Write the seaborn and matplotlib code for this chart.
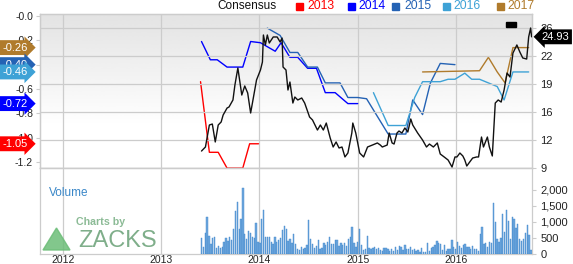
import numpy as np
import pandas as pd
import matplotlib
matplotlib.use('Agg')
import matplotlib.pyplot as plt
import seaborn as sns
from matplotlib.patches import Polygon, Rectangle

sns.set_theme(style='white')
plt.rcParams['font.family'] = ['Liberation Sans', 'DejaVu Sans']

# ---------------- data ----------------
years = [2012, 2013, 2014, 2015, 2016]

price_x = [2013.41, 2013.45, 2013.49, 2013.52, 2013.55, 2013.58, 2013.61, 2013.63, 2013.67, 2013.69,
           2013.73, 2013.75, 2013.78, 2013.82, 2013.85, 2013.88, 2013.91, 2013.93, 2013.97, 2014.01,
           2014.03, 2014.04, 2014.06, 2014.08, 2014.10, 2014.14, 2014.18, 2014.21, 2014.23, 2014.24,
           2014.27, 2014.29, 2014.31, 2014.34, 2014.36, 2014.39, 2014.43, 2014.46, 2014.51, 2014.54,
           2014.59, 2014.62, 2014.65, 2014.68, 2014.72, 2014.75, 2014.78, 2014.81, 2014.84, 2014.87,
           2014.90, 2014.94, 2014.95, 2014.98, 2015.02, 2015.06, 2015.10, 2015.15, 2015.20, 2015.23,
           2015.25, 2015.30, 2015.32, 2015.35, 2015.37, 2015.40, 2015.42, 2015.45, 2015.48, 2015.51,
           2015.54, 2015.56, 2015.61, 2015.66, 2015.70, 2015.73, 2015.77, 2015.81, 2015.84, 2015.88,
           2015.92, 2015.96, 2015.99, 2016.01, 2016.04, 2016.07, 2016.09, 2016.11, 2016.14, 2016.17,
           2016.21, 2016.23, 2016.26, 2016.28, 2016.32, 2016.34, 2016.37, 2016.40, 2016.43, 2016.46,
           2016.49, 2016.52, 2016.55, 2016.58, 2016.62, 2016.65, 2016.68, 2016.72, 2016.74, 2016.76,
           2016.77]
price_y = [11.06, 11.55, 14.22, 14.34, 12.16, 14.22, 14.59, 15.43, 16.28, 16.41,
           17.26, 19.08, 21.14, 17.86, 18.96, 18.11, 15.68, 17.01, 19.69, 20.90,
           21.87, 25.15, 23.94, 25.15, 24.18, 24.91, 24.91, 24.30, 24.78, 21.26,
           20.90, 18.47, 19.44, 16.89, 17.62, 17.26, 17.50, 16.89, 15.19, 14.83,
           13.61, 14.22, 13.61, 14.46, 12.64, 11.55, 12.16, 11.43, 11.55, 10.34,
           10.82, 13.25, 14.46, 13.25, 10.82, 10.34, 11.55, 11.79, 12.04, 11.79,
           11.55, 11.79, 13.25, 12.04, 11.91, 13.25, 13.49, 13.25, 13.86, 13.37,
           14.95, 14.22, 13.25, 12.40, 11.55, 11.91, 11.55, 12.04, 10.70, 10.34,
           9.97, 9.12, 10.34, 10.34, 10.82, 10.46, 9.97, 9.24, 9.73, 10.21,
           10.34, 10.34, 12.76, 11.55, 12.76, 11.55, 10.46, 16.89, 17.26, 17.01,
           18.47, 20.53, 20.05, 22.96, 23.94, 23.09, 22.36, 22.23, 24.91, 26.00,
           24.93]
last_price = 24.93

eps2013_x = [2013.40, 2013.49, 2013.58, 2013.67, 2013.83, 2013.90, 2013.99]
eps2013_y = [-0.54, -1.12, -1.12, -1.25, -1.25, -1.05, -1.05]

eps2014_x = [2013.41, 2013.50, 2013.57, 2013.67, 2013.83, 2013.91, 2014.01, 2014.16, 2014.22,
             2014.31, 2014.39, 2014.49, 2014.58, 2014.67, 2014.77, 2014.90, 2015.00]
eps2014_y = [-0.21, -0.36, -0.36, -0.42, -0.42, -0.21, -0.22, -0.29, -0.22,
             -0.34, -0.34, -0.43, -0.43, -0.63, -0.63, -0.72, -0.72]

eps2015_x = [2014.08, 2014.21, 2014.31, 2014.39, 2014.49, 2014.59, 2014.67, 2014.82, 2014.90,
             2015.00, 2015.09, 2015.31, 2015.49, 2015.56, 2015.66, 2015.74, 2015.84, 2015.99]
eps2015_y = [-0.10, -0.16, -0.30, -0.30, -0.42, -0.42, -0.55, -0.55, -0.67,
             -0.67, -0.68, -0.97, -0.97, -0.69, -0.81, -0.55, -0.39, -0.40]

eps2016_x = [2015.16, 2015.31, 2015.49, 2015.58, 2015.66, 2015.84, 2015.92, 2015.99,
             2016.09, 2016.16, 2016.24, 2016.42, 2016.49, 2016.58, 2016.74]
eps2016_y = [-0.63, -0.90, -0.90, -0.67, -0.54, -0.54, -0.52, -0.52,
             -0.47, -0.52, -0.52, -0.58, -0.69, -0.46, -0.46]

eps2017_x = [2015.66, 2016.24, 2016.33, 2016.42, 2016.50, 2016.58, 2016.74]
eps2017_y = [-0.46, -0.45, -0.34, -0.46, -0.55, -0.26, -0.26]

tag_values = {'2017': -0.26, '2015': -0.40, '2016': -0.46, '2014': -0.72, '2013': -1.05}

volume_start = 2013.41
volume = [490, 230, 650, 1150, 560, 310, 490, 520, 180, 250, 180, 210, 385, 490, 415, 540, 440,
          770, 1340, 1630, 780, 1080, 2050, 625, 460, 720, 665, 520, 490, 980, 385, 330, 1080,
          1370, 540, 520, 520, 385, 310, 520, 385, 440, 490, 750,
          875, 770, 415, 460, 330, 625, 310, 155, 125, 210, 145, 180, 280, 1060, 460, 310, 180,
          250, 440, 145, 180, 355, 280, 385, 520, 310, 310, 440, 440, 250, 330, 280, 330, 250,
          460, 520, 830, 355, 210, 365, 770, 280, 125, 145,
          570, 180, 155, 180, 210, 155, 180, 125, 105, 180, 180, 145, 95, 145, 95, 210, 125, 250,
          230, 125, 280, 145, 155, 210, 125, 155, 105, 125, 75, 180, 75, 50, 330, 105, 180, 230,
          280, 415, 330, 310, 125, 280, 105, 155,
          155, 440, 210, 155, 385, 260, 180, 280, 300, 210, 210, 155, 250, 145, 145, 105, 625,
          830, 310, 330, 230, 385, 330, 1600, 1010, 460, 385, 490, 1250, 700, 1370, 1030, 460,
          1165, 1080, 800, 925, 460, 415, 460, 665, 905, 590, 125]

colors = {'2013': '#ff0000', '2014': '#0000ff', '2015': '#2462b4',
          '2016': '#3ea2d6', '2017': '#b07b2c'}

# ---------------- figure ----------------
W, H = 573, 264
fig = plt.figure(figsize=(W / 100, H / 100), dpi=100)
fig.patch.set_facecolor('white')

def fx(px):
    return px / W

def fy(py):
    return 1 - py / H

L, R = 40, 532
ax = fig.add_axes([fx(L), fy(168), fx(R) - fx(L), (168 - 14) / H])
axv = fig.add_axes([fx(L), fy(254), fx(R) - fx(L), (254 - 168) / H])
axp = ax.twinx()

xlim = (2011.766, 2016.774)
for a in (ax, axv):
    a.set_xlim(*xlim)

grid_c = '#cccccc'

# gradient background
t = np.linspace(0, 1, 200)
grad = np.clip(0.89 + 0.11 * t / 0.72, 0, 1)[:, None]
ax.imshow(grad, extent=[0, 1, 0, 1], transform=ax.transAxes, aspect='auto',
          cmap='gray', vmin=0, vmax=1, zorder=0, interpolation='bicubic')

# consensus lines
frames = []
for yr, xs, ys in [('2013', eps2013_x, eps2013_y), ('2014', eps2014_x, eps2014_y),
                   ('2015', eps2015_x, eps2015_y), ('2016', eps2016_x, eps2016_y),
                   ('2017', eps2017_x, eps2017_y)]:
    frames.append(pd.DataFrame({'x': xs, 'eps': ys, 'year': yr}))
eps_df = pd.concat(frames, ignore_index=True)
sns.lineplot(data=eps_df, x='x', y='eps', hue='year', palette=colors, estimator=None,
             sort=False, legend=False, linewidth=1.0, ax=ax, zorder=3)
ax.set_ylim(-1.249, 0.016)
ax.set_yticks([0, -0.2, -0.4, -0.6, -0.8, -1.0, -1.2])
ax.set_yticklabels(['-0.0', '-0.2', '-0.4', '-0.6', '-0.8', '-1.0', '-1.2'])
ax.set_xlabel('')
ax.set_ylabel('')
ax.set_xticks(years)
ax.tick_params(axis='x', labelbottom=False, length=0)
ax.tick_params(axis='y', labelsize=7.5, length=3, width=0.8, color=grid_c, pad=2,
               labelcolor='#222222')
ax.grid(False)
for yv in years:
    ax.axvline(yv, color=grid_c, lw=0.9, zorder=1)

# price line
price_df = pd.DataFrame({'x': price_x, 'price': price_y})
sns.lineplot(data=price_df, x='x', y='price', color='#111111', estimator=None, sort=False,
             linewidth=1.0, ax=axp, zorder=4)
axp.set_ylim(9, 27.7)
axp.set_yticks([9, 12.4, 15.8, 19.2, 22.6, 26])
axp.set_yticklabels(['9', '12', '16', '19', '22', '26'])
axp.set_xlabel('')
axp.set_ylabel('')
axp.tick_params(axis='y', labelsize=8, length=3, width=0.8, color=grid_c, pad=3,
                labelcolor='#222222')
axp.yaxis.grid(True, color=grid_c, lw=0.9)
axp.set_axisbelow(True)
axp.add_patch(Rectangle((2016.51, 26.12), 0.10, 0.61, color='black', zorder=5))
axp.set_xlim(*xlim)

# volume
vol_x = volume_start + np.arange(len(volume)) * 7 / 365.25
axv.bar(vol_x, volume, width=0.0135, color='#6ea8dd', edgecolor='#3f86cc', linewidth=0.3,
        zorder=3)
axv.set_ylim(0, 2687)
axv.yaxis.tick_right()
axv.set_yticks([0, 500, 1000, 1500, 2000])
axv.set_yticklabels(['0', '500', '1,000', '1,500', '2,000'])
axv.tick_params(axis='y', labelsize=8, length=3, width=0.8, color=grid_c, pad=3,
                labelcolor='#222222')
axv.set_xticks(years)
axv.set_xticklabels([str(y) for y in years])
axv.tick_params(axis='x', labelsize=7.5, length=0, pad=1, labelcolor='#222222')
axv.grid(False)
for yv in years:
    axv.axvline(yv, color=grid_c, lw=0.9, zorder=1)
axv.set_facecolor('white')

for a in (ax, axp, axv):
    for s in a.spines.values():
        s.set_color(grid_c)
        s.set_linewidth(0.9)

# left tags
for yr in ['2017', '2015', '2016', '2014', '2013']:
    v = tag_values[yr]
    ax.annotate(f'{v:.2f}', xy=(0, v), xycoords=('axes fraction', 'data'),
                xytext=(-9, 0), textcoords='offset points', ha='right', va='center',
                fontsize=8, color='white', zorder=10, annotation_clip=False,
                bbox=dict(boxstyle='rarrow,pad=0.22', fc=colors[yr], ec='none'))

# right price tag
axp.annotate(f'{last_price:.2f}', xy=(1, last_price), xycoords=('axes fraction', 'data'),
             xytext=(7, 0), textcoords='offset points', ha='left', va='center',
             fontsize=8, color='white', zorder=10, annotation_clip=False,
             bbox=dict(boxstyle='larrow,pad=0.22', fc='black', ec='none'))

# legend
fig.text(fx(217), fy(6), 'Consensus', fontsize=8.5, color='#111111', va='center', ha='left')
leg = [('2013', 296, 307), ('2014', 348, 358), ('2015', 392, 404), ('2016', 443, 453),
       ('2017', 497, 507)]
for yr, sx, tx in leg:
    fig.patches.append(Rectangle((fx(sx), fy(9.5)), 7 / W, 7 / H, transform=fig.transFigure,
                                 color=colors[yr], figure=fig))
    fig.text(fx(tx), fy(6), yr, fontsize=8.8, color=colors[yr], va='center', ha='left')

# volume label & logo
fig.text(fx(49), fy(193), 'Volume', fontsize=8.5, color='#3a87c8', va='center', ha='left')
fig.text(fx(76), fy(222), 'Charts by', fontsize=7.7, color='#8cbb96', va='center', ha='left',
         fontweight='bold')
fig.text(fx(78), fy(241), 'ZACKS', fontsize=17, color='#7fae8a', va='center', ha='left')
fig.patches.append(Polygon([(fx(43), fy(250)), (fx(56.5), fy(228)), (fx(70), fy(250))],
                           closed=True, transform=fig.transFigure, color='#6cbd78',
                           alpha=0.85, figure=fig))

fig.savefig('out.png', dpi=100)
